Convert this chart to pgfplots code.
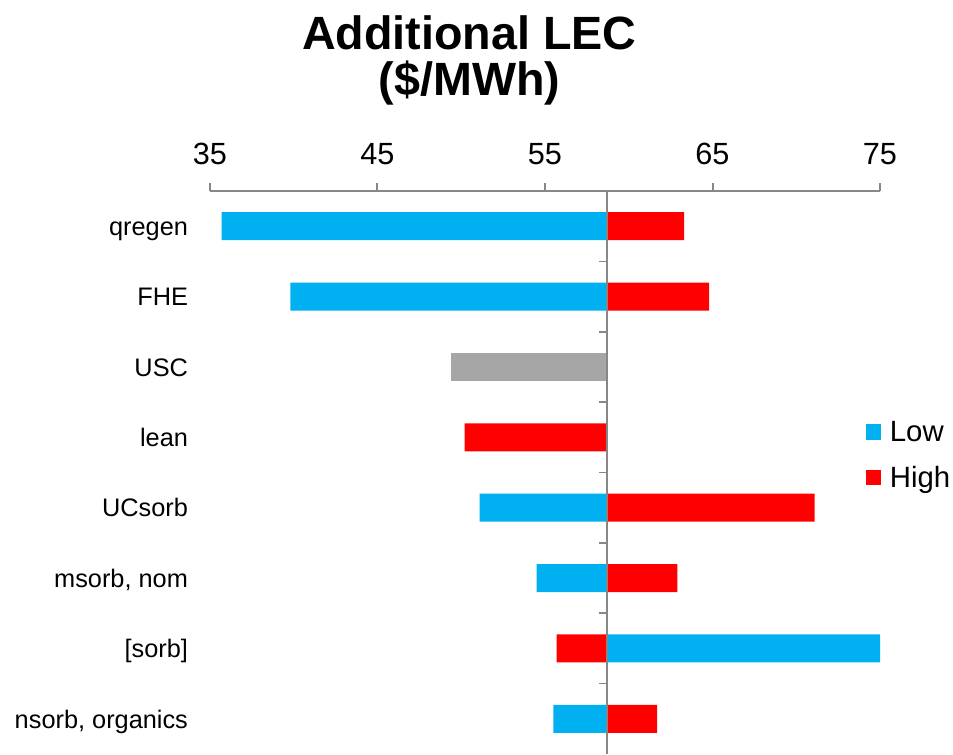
\documentclass[border=0pt]{standalone}
\usepackage{pgfplots}
\pgfplotsset{compat=1.18}
\usepackage{pgfplotstable}
\usepackage{fontspec}
\setmainfont{Liberation Sans}

\definecolor{lowblue}{HTML}{00B0F0}
\definecolor{highred}{HTML}{FF0000}
\definecolor{uscgray}{HTML}{A6A6A6}
\definecolor{axgray}{HTML}{878787}

% base case LEC, where the bars start
\newcommand{\base}{58.7}

% y = row (0 = qregen ... 7 = nsorb, organics), v = LEC ($/MWh)
\pgfplotstableread{
y v
0 35.7
1 39.8
4 51.1
5 54.5
6 75.2
7 55.5
}\lowdata

\pgfplotstableread{
y v
0 63.3
1 64.8
3 50.2
4 71.1
5 62.9
6 55.7
7 61.7
}\highdata

\pgfplotstableread{
y v
2 49.4
}\uscdata

\begin{document}
\begin{tikzpicture}[x=1pt,y=1pt]
\begin{axis}[
  at={(0,0)}, anchor=south west,
  scale only axis, width=502.5pt, height=422.25pt,
  xbar, bar width=21pt, bar shift=0pt,
  xmin=-23.7, xmax=16.3,
  ymin=-0.5, ymax=7.5, y dir=reverse,
  axis x line*=top, axis y line*=left,
  y axis line style={draw=none},
  x axis line style={draw=axgray, line width=1.5pt},
  xtick={-23.7,-13.7,-3.7,6.3,16.3},
  xticklabels={35,45,55,65,75},
  xtick align=outside,
  major tick length=6pt,
  xtick style={draw=axgray, line width=1.5pt},
  xticklabel style={font=\fontsize{23}{23}\selectfont, yshift=10pt},
  ytick={0,...,7},
  yticklabels={qregen,FHE,USC,lean,UCsorb,{msorb, nom},{[sorb]},{nsorb, organics}},
  ytick style={draw=none},
  yticklabel style={font=\fontsize{19}{19}\selectfont, xshift=-7pt, yshift=-2.2pt,
    text height=13.5pt, text depth=4pt},
  legend style={draw=none, fill=none, at={(rel axis cs:0.978,0.531)}, anchor=west,
    font=\fontsize{22}{22}\selectfont, row sep=13pt, column sep=4.5pt, inner sep=0pt},
  legend cell align=left,
]
\addplot[fill=lowblue, draw=none,
  legend image code/.code={\fill[lowblue] (0pt,-5.8pt) rectangle (11.8pt,5.8pt);}]
  table[x expr=\thisrow{v}-\base, y=y] {\lowdata};
\addlegendentry{Low}
\addplot[fill=highred, draw=none,
  legend image code/.code={\fill[highred] (0pt,-5.8pt) rectangle (11.8pt,5.8pt);}]
  table[x expr=\thisrow{v}-\base, y=y] {\highdata};
\addlegendentry{High}
\addplot[fill=uscgray, draw=none, forget plot]
  table[x expr=\thisrow{v}-\base, y=y] {\uscdata};

\draw[axgray, line width=1.5pt] (axis cs:0,-0.5) -- (axis cs:0,7.5);
\pgfplotsinvokeforeach{0.5,1.5,2.5,3.5,4.5,5.5,6.5}{
  \draw[axgray, line width=1.2pt] (axis cs:0,#1) -- ++(-6pt,0pt);
}
\end{axis}

\node[anchor=base, font=\bfseries\fontsize{35}{35}\selectfont] at (194.6,528) {Additional LEC};
\node[anchor=base, font=\bfseries\fontsize{35}{35}\selectfont] at (194.6,493.5) {(\$/MWh)};

\pgfresetboundingbox
\path (-157.5,0) rectangle (557.25,565.5);
\end{tikzpicture}
\end{document}
